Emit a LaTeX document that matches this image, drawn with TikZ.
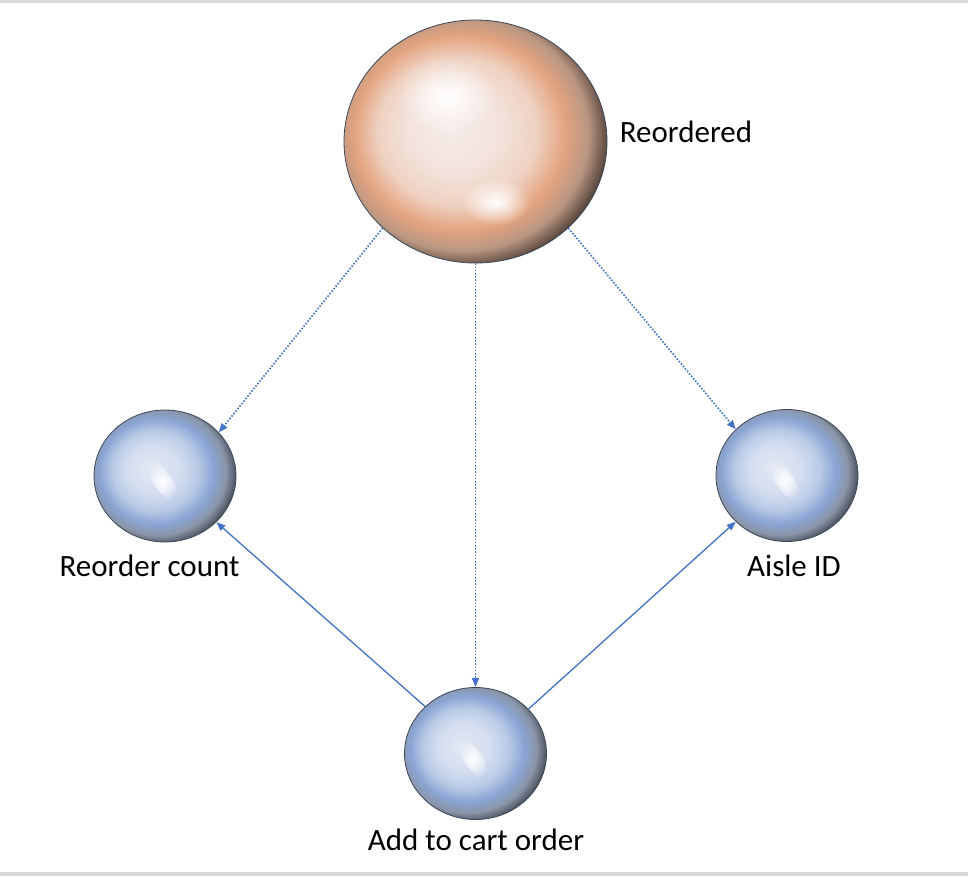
\documentclass[tikz,border=0pt]{standalone}
\usepackage{fontspec}
\setmainfont{Carlito}
\usetikzlibrary{arrows.meta,fadings,shapes.geometric}
\definecolor{edgeblue}{HTML}{4472C4}
\definecolor{bargray}{HTML}{D9D9D9}
\definecolor{rimgray}{HTML}{3B4656}
\definecolor{peachA}{HTML}{F6ECE9}
\definecolor{peachB}{HTML}{F3E2DB}
\definecolor{peachC}{HTML}{EFD2C2}
\definecolor{peachD}{HTML}{E4A47F}
\definecolor{peachE}{HTML}{B99682}
\definecolor{peachF}{HTML}{3A2E28}
\definecolor{blueA}{HTML}{E3E9F4}
\definecolor{blueB}{HTML}{D4DEEF}
\definecolor{blueC}{HTML}{BACAE6}
\definecolor{blueD}{HTML}{8AA5D4}
\definecolor{blueE}{HTML}{8A95A8}
\definecolor{blueF}{HTML}{363C46}
\pgfdeclareradialshading{peachball}{\pgfqpoint{-5bp}{3bp}}{%
  color(0bp)=(peachA); color(9bp)=(peachB); color(15bp)=(peachC);
  color(20bp)=(peachD); color(24bp)=(peachE); color(28.5bp)=(peachF); color(50bp)=(peachF)}
\pgfdeclareradialshading{blueball}{\pgfqpoint{-5bp}{3bp}}{%
  color(0bp)=(blueA); color(9bp)=(blueB); color(15bp)=(blueC);
  color(20bp)=(blueD); color(24bp)=(blueE); color(28.5bp)=(blueF); color(50bp)=(blueF)}
\tikzfading[name=glow, inner color=transparent!0, outer color=transparent!100]

\begin{document}
\begin{tikzpicture}[x=1pt,y=-1pt,
  bigsphere/.style={ellipse, inner sep=0pt, shading=peachball, draw=rimgray, line width=0.8pt,
    minimum width=263pt, minimum height=243pt},
  sphere/.style={ellipse, inner sep=0pt, shading=blueball, draw=rimgray, line width=0.8pt,
    minimum width=142pt, minimum height=132pt},
  lbl/.style={anchor=base, inner sep=0pt, font=\fontsize{31pt}{37pt}\selectfont},
  dotarrow/.style={edgeblue, line width=1.6pt, dash pattern=on 1.6pt off 1.6pt,
    -{Triangle[length=9pt,width=7pt]}},
  solarrow/.style={edgeblue, line width=1.3pt, -{Triangle[length=9pt,width=7pt]}},
  shine/.style={white, path fading=glow}]

\useasboundingbox (0,0) rectangle (968,876);
\fill[bargray] (0,0) rectangle (968,2.5);
\fill[bargray] (0,872) rectangle (968,876);

\node[bigsphere] (reord) at (475.5,141.5) {};
\node[sphere] (rc) at (165,476) {};
\node[sphere] (aisle) at (787,475.5) {};
\node[sphere] (cart) at (475.5,753.5) {};

\fill[shine] (447,96) ellipse (50pt and 38pt);
\fill[shine] (496,202) ellipse (34pt and 24pt);
\foreach \s in {rc,aisle,cart}{
  \fill[shine, rotate around={-55:(\s)}] ([shift={(3,5)}]\s.center) ellipse (22pt and 9pt);
}

\node[lbl] (reordtxt) at (686,142) {Reordered};
\node[lbl] (rctxt) at (149.5,576) {Reorder count};
\node[lbl] (aisletxt) at (794,576) {Aisle ID};
\node[lbl] (carttxt) at (476,850) {Add to cart order};

\draw[dotarrow] (reord.223) -- (rc.39);
\draw[dotarrow] (reord.south) -- (cart.north);
\draw[dotarrow] (reord.317) -- (aisle.138);
\draw[solarrow] (cart.137) -- (rc.318);
\draw[solarrow] (cart.40) -- (aisle.222);
\end{tikzpicture}
\end{document}
